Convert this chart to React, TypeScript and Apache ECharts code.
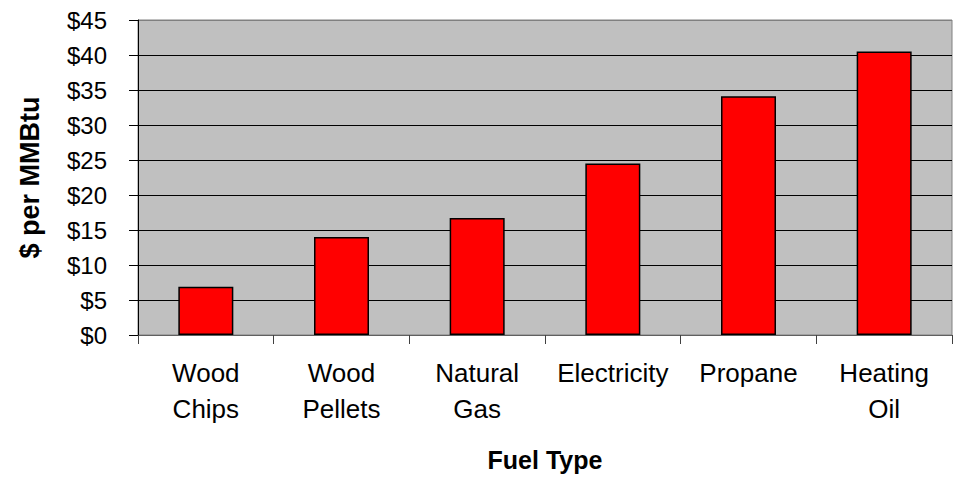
import React, { useEffect, useRef } from "react";
import * as echarts from "echarts";

const categories = ["Wood\nChips", "Wood\nPellets", "Natural\nGas", "Electricity", "Propane", "Heating\nOil"];
const prices = [6.9, 14.0, 16.7, 24.5, 34.1, 40.5];
const yTickLabels = ["$0", "$5", "$10", "$15", "$20", "$25", "$30", "$35", "$40", "$45"];

const FONT = "'Liberation Sans', Arial, sans-serif";

export default function App() {
  const ref = useRef<HTMLDivElement>(null);
  useEffect(() => {
    if (!ref.current) return;
    const chart = echarts.init(ref.current, undefined, { renderer: "svg" });
    chart.setOption({
      animation: false,
      backgroundColor: "#ffffff",
      grid: {
        left: 138,
        right: 5,
        top: 20,
        bottom: 143,
        show: true,
        backgroundColor: "#C0C0C0",
        borderColor: "#808080",
        borderWidth: 1,
      },
      xAxis: {
        type: "category",
        data: categories,
        name: "Fuel Type",
        nameLocation: "middle",
        nameGap: 112,
        nameTextStyle: { fontFamily: FONT, fontSize: 25, fontWeight: "bold", color: "#000" },
        axisLine: { show: true, lineStyle: { color: "#606060", width: 1 } },
        axisTick: { show: true, length: 9, alignWithLabel: false, lineStyle: { color: "#404040" } },
        axisLabel: {
          interval: 0,
          margin: 20,
          fontFamily: FONT,
          fontSize: 26,
          lineHeight: 36,
          color: "#000",
        },
        splitLine: { show: false },
      },
      yAxis: {
        type: "value",
        min: 0,
        max: 45,
        interval: 5,
        name: "$ per MMBtu",
        nameLocation: "middle",
        nameRotate: 90,
        nameGap: 95,
        nameTextStyle: { fontFamily: FONT, fontSize: 27, fontWeight: "bold", color: "#000" },
        axisLine: { show: true, lineStyle: { color: "#000", width: 1 } },
        axisTick: { show: true, length: 9, lineStyle: { color: "#000" } },
        axisLabel: {
          margin: 31,
          fontFamily: FONT,
          fontSize: 24,
          color: "#000",
          formatter: (v: number) => yTickLabels[Math.round(v / 5)] ?? "",
        },
        splitLine: {
          show: true,
          lineStyle: {
            color: ["#808080", "#000", "#000", "#000", "#000", "#000", "#000", "#000", "#000", "#808080"],
            width: 1,
          },
        },
      },
      series: [
        {
          type: "bar",
          data: prices,
          barWidth: 55,
          itemStyle: { color: "#FF0000", borderColor: "#000", borderWidth: 1.5 },
        },
      ],
    });
    return () => chart.dispose();
  }, []);
  return (
    <div
      ref={ref}
      style={{ position: "absolute", left: 0, top: 0, width: 957, height: 478 }}
    />
  );
}
